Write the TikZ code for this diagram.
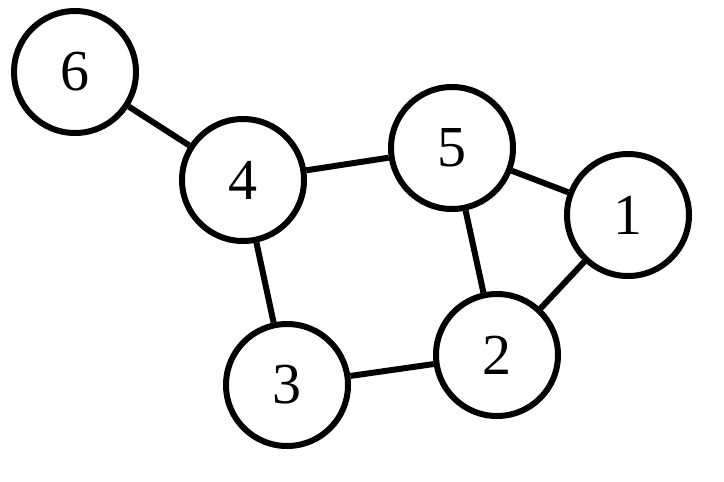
\documentclass[tikz,border=0pt]{standalone}
\usepackage{fontspec}
\setmainfont{Liberation Serif}
\begin{document}
\begin{tikzpicture}[x=1pt,y=-1pt,
	vnode/.style={circle,draw,line width=6pt,minimum size=122pt,inner sep=0pt,font=\fontsize{58}{58}\selectfont},
	edge/.style={line width=6pt}]
	\useasboundingbox (0,0) rectangle (724,482);
	\node[vnode] (v6) at (75,72) {6};
	\node[vnode] (v4) at (243,180) {4};
	\node[vnode] (v5) at (452,148) {5};
	\node[vnode] (v1) at (628,215) {1};
	\node[vnode] (v2) at (497,355) {2};
	\node[vnode] (v3) at (287,385) {3};
	%
	\draw[edge] (v6) -- (v4);
	\draw[edge] (v4) -- (v5);
	\draw[edge] (v4) -- (v3);
	\draw[edge] (v5) -- (v1);
	\draw[edge] (v5) -- (v2);
	\draw[edge] (v1) -- (v2);
	\draw[edge] (v3) -- (v2);
\end{tikzpicture}
\end{document}
